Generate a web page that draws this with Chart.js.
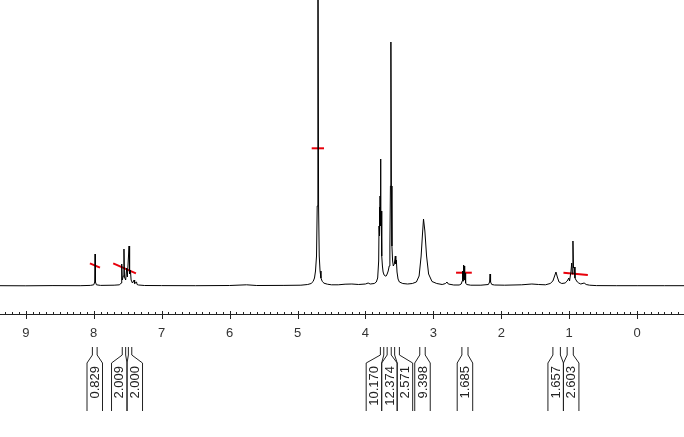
<!DOCTYPE html>
<html>
<head>
<meta charset="utf-8">
<script src="https://cdn.jsdelivr.net/npm/chart.js@4.4.1/dist/chart.umd.min.js"></script>
<style>
  body { margin: 0; background: #fff; }
  #wrap { width: 684px; height: 437px; position: relative; }
</style>
</head>
<body>
<div id="wrap"><canvas id="nmrCanvas"></canvas></div>
<script>
// spectre 1H : déplacement chimique (ppm) et intensité (unités arbitraires, ligne de base = 0)
const spectrumPpm = [
  9.38, 9.0, 8.6, 8.2, 8.05, 8.00, 7.985, 7.980, 7.975, 7.960, 7.90, 7.70,
  7.62, 7.595, 7.588, 7.580, 7.565, 7.555, 7.548, 7.530, 7.515, 7.505, 7.480, 7.472,
  7.460, 7.450, 7.430, 7.405, 7.398, 7.370, 7.362, 7.340, 7.25, 7.0, 6.5, 6.0,
  5.75, 5.6, 5.2, 4.95, 4.85, 4.80, 4.77, 4.75, 4.735, 4.72, 4.71, 4.700,
  4.690, 4.680, 4.668, 4.655, 4.635, 4.61, 4.56, 4.50, 4.40, 4.30, 4.20, 4.10,
  4.00, 3.96, 3.93, 3.87, 3.84, 3.82, 3.805, 3.800, 3.795, 3.790, 3.785, 3.778,
  3.772, 3.768, 3.760, 3.750, 3.740, 3.725, 3.71, 3.695, 3.68, 3.665, 3.650, 3.640,
  3.632, 3.625, 3.618, 3.610, 3.600, 3.590, 3.575, 3.560, 3.553, 3.545, 3.535, 3.52,
  3.50, 3.45, 3.38, 3.31, 3.25, 3.21, 3.18, 3.16, 3.145, 3.125, 3.10, 3.07,
  3.02, 2.95, 2.87, 2.82, 2.80, 2.78, 2.70, 2.62, 2.59, 2.575, 2.570, 2.563,
  2.557, 2.551, 2.545, 2.539, 2.532, 2.525, 2.51, 2.45, 2.30, 2.19, 2.172, 2.165,
  2.158, 2.14, 2.10, 1.95, 1.70, 1.55, 1.45, 1.35, 1.28, 1.24, 1.215, 1.195,
  1.175, 1.15, 1.11, 1.06, 1.03, 1.005, 0.995, 0.975, 0.963, 0.955, 0.945, 0.937,
  0.925, 0.915, 0.90, 0.88, 0.86, 0.83, 0.78, 0.75, 0.70, 0.60, 0.30, 0.0,
  -0.4, -0.69
];
const spectrumIntensity = [
  0.3, 0.2, 0.4, 0.3, 0.6, 1.2, 4, 32, 4, 1.2, 0.6, 0.8,
  1.2, 3, 22, 6, 10, 37, 9, 6, 18, 9, 40, 12,
  16, 6, 3, 6, 2.5, 4, 1.5, 1, 0.5, 0.4, 0.3, 0.5,
  1.2, 0.5, 0.6, 0.8, 1.5, 2.5, 4.5, 8, 15, 30, 80, 420,
  80, 30, 15, 8, 4.5, 2.8, 1.8, 1.2, 1.2, 1.8, 2, 1.5,
  2, 3, 2, 2.5, 4, 8, 25, 60, 79, 50, 90, 127,
  60, 75, 30, 20, 14, 11, 10, 10, 12, 15, 20, 40,
  100, 244, 100, 40, 25, 20, 22, 30, 22, 26, 14, 7,
  4, 2.5, 2, 2.5, 4, 10, 30, 52, 67, 55, 30, 12,
  4.5, 2.5, 1.5, 2.5, 4, 2, 1, 1, 2, 5, 15, 5,
  21, 7, 20, 6, 13, 3, 1.5, 0.8, 0.8, 1.5, 4, 12,
  4, 1.5, 1, 0.8, 1.2, 2, 1.5, 1.2, 2.5, 5, 10, 14,
  9, 4, 2.5, 3, 5, 8, 5, 14, 23, 12, 45, 18,
  19, 8, 6, 4, 3, 2, 3, 1.5, 0.8, 0.4, 0.3, 0.3,
  0.3, 0.3
];

// graduations de l'axe
const tickValues = [9, 8, 7, 6, 5, 4, 3, 2, 1, 0];
const tickLabels = ["9", "8", "7", "6", "5", "4", "3", "2", "1", "0"];

// intégrales : bornes (ppm) et valeurs affichées
const integralFrom = [8.02, 7.58, 7.49, 3.78, 3.68, 3.57, 3.20, 2.58, 1.24, 1.03];
const integralTo   = [7.95, 7.53, 7.44, 3.73, 3.62, 3.50, 3.12, 2.49, 1.13, 0.94];
const integralLabels = ["0.829", "2.009", "2.000", "10.170", "12.374", "2.571", "9.398", "1.685", "1.657", "2.603"];

// marqueurs rouges des intégrales
const markerPpmStart = [8.056, 7.713, 4.791, 2.666, 1.085];
const markerPpmEnd   = [7.908, 7.379, 4.610, 2.434, 0.726];
const markerYStart   = [22.7, 22.7, 137.7, 13.3, 13.3];
const markerYEnd     = [18.3, 12.7, 137.7, 13.3, 11];

const spectrumPoints = spectrumPpm.map((p, i) => ({ x: p, y: spectrumIntensity[i] }));

const markerSets = markerPpmStart.map((p, i) => ({
    data: [{ x: p, y: markerYStart[i] }, { x: markerPpmEnd[i], y: markerYEnd[i] }],
    borderColor: "#e8000b",
    borderWidth: 2,
    pointRadius: 0,
    tension: 0,
}));

// axe ppm + intégrales dessinés avec l'échelle x du graphique
const nmrAxis = {
    id: "nmrAxis",
    afterDraw(chart) {
        const ctx = chart.ctx;
        const xs = chart.scales.x;
        const area = chart.chartArea;
        const axisY = area.bottom;
        ctx.save();
        ctx.strokeStyle = "#222";
        ctx.lineWidth = 1;
        ctx.beginPath();
        ctx.moveTo(area.left, axisY + 0.5);
        ctx.lineTo(area.right, axisY + 0.5);
        for (let i = Math.ceil(xs.min * 10); i <= Math.floor(xs.max * 10); i++) {
            const px = Math.round(xs.getPixelForValue(i / 10)) + 0.5;
            if (i % 10 === 0) {
                ctx.moveTo(px, axisY - 3);
                ctx.lineTo(px, axisY + 5);
            } else {
                ctx.moveTo(px, axisY - 2);
                ctx.lineTo(px, axisY + 1);
            }
        }
        ctx.stroke();

        ctx.fillStyle = "#333";
        ctx.font = "13px 'Liberation Sans', Arial, sans-serif";
        ctx.textAlign = "center";
        ctx.textBaseline = "middle";
        tickValues.forEach((v, i) => {
            ctx.fillText(tickLabels[i], xs.getPixelForValue(v), axisY + 19);
        });

        // position des boîtes d'intégrales (écartées si elles se chevauchent)
        const boxW = 15.5;
        const items = integralFrom.map((f, i) => {
            const a = xs.getPixelForValue(f), b = xs.getPixelForValue(integralTo[i]);
            return { l: Math.min(a, b), r: Math.max(a, b), c: (a + b) / 2, label: integralLabels[i] };
        });
        let groups = items.map(it => ({ members: [it], center: it.c }));
        let changed = true;
        while (changed) {
            changed = false;
            for (let g = 0; g < groups.length - 1; g++) {
                const A = groups[g], B = groups[g + 1];
                const aRight = A.center + A.members.length * boxW / 2;
                const bLeft = B.center - B.members.length * boxW / 2;
                if (bLeft < aRight - 0.01) {
                    const members = A.members.concat(B.members);
                    const center = members.reduce((s, m) => s + m.c, 0) / members.length;
                    groups.splice(g, 2, { members, center });
                    changed = true;
                    break;
                }
            }
        }
        groups.forEach(g => {
            const n = g.members.length;
            g.members.forEach((m, k) => {
                m.bc = g.center + (k - (n - 1) / 2) * boxW;
            });
        });

        const y0 = axisY + 33, y1 = axisY + 41, y2 = axisY + 49, y3 = axisY + 97;
        ctx.strokeStyle = "#222";
        ctx.beginPath();
        items.forEach(m => {
            const bl = m.bc - boxW / 2, br = m.bc + boxW / 2;
            ctx.moveTo(m.l, y0); ctx.lineTo(m.l, y1); ctx.lineTo(bl, y2); ctx.lineTo(bl, y3);
            ctx.moveTo(m.r, y0); ctx.lineTo(m.r, y1); ctx.lineTo(br, y2); ctx.lineTo(br, y3);
        });
        ctx.stroke();

        ctx.fillStyle = "#222";
        ctx.textAlign = "right";
        items.forEach(m => {
            ctx.save();
            ctx.translate(m.bc + 0.5, y2 + 3);
            ctx.rotate(-Math.PI / 2);
            ctx.fillText(m.label, 0, 0);
            ctx.restore();
        });
        ctx.restore();
    }
};

const nmrChart = new Chart(document.getElementById("nmrCanvas"), {
    type: "line",
    data: {
        datasets: [{
            data: spectrumPoints,
            borderColor: "#000",
            borderWidth: 1,
            pointRadius: 0,
            tension: 0,
        }].concat(markerSets),
    },
    options: {
        responsive: true,
        maintainAspectRatio: false,
        animation: false,
        layout: { padding: { top: 0, left: 0, right: 0, bottom: 123 } },
        plugins: { legend: { display: false }, tooltip: { enabled: false } },
        scales: {
            x: { type: "linear", reverse: true, min: -0.69, max: 9.38, display: false },
            y: { min: -28, max: 286, display: false },
        },
    },
    plugins: [nmrAxis],
});
</script>
</body>
</html>
